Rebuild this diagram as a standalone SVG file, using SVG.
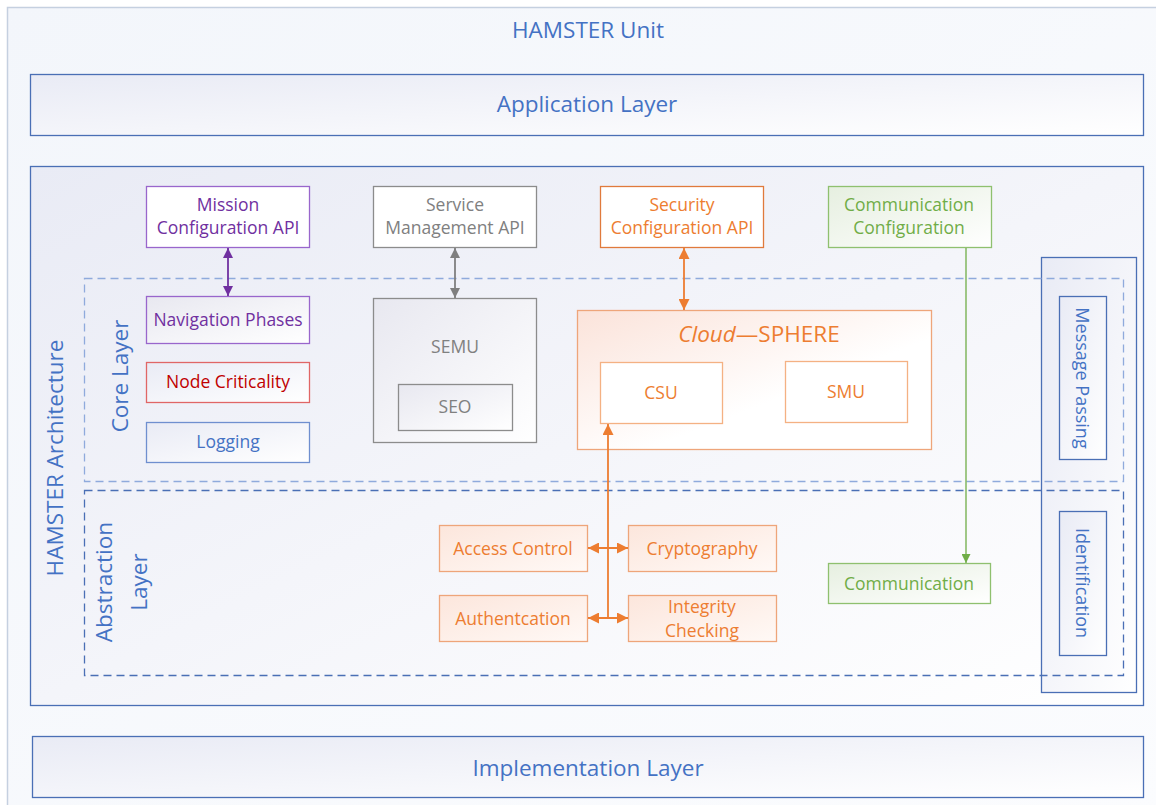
<svg xmlns="http://www.w3.org/2000/svg" width="1156" height="805" viewBox="0 0 1156 805">
  <defs>
    <linearGradient id="gBlue" x1="0" y1="0" x2="1" y2="1">
      <stop offset="0" stop-color="#e9ebf5"/>
      <stop offset="1" stop-color="#ffffff"/>
    </linearGradient>
    <linearGradient id="gUnit" x1="0" y1="0" x2="1" y2="1">
      <stop offset="0" stop-color="#f3f6fb"/>
      <stop offset="1" stop-color="#fbfcfe"/>
    </linearGradient>
    <linearGradient id="gOrange" x1="0" y1="0" x2="1" y2="1">
      <stop offset="0" stop-color="#fbe3da"/>
      <stop offset="0.6" stop-color="#ffffff"/>
    </linearGradient>
    <linearGradient id="gOrangeBox" x1="0" y1="0" x2="1" y2="1">
      <stop offset="0" stop-color="#fce6dc"/>
      <stop offset="1" stop-color="#fff9f6"/>
    </linearGradient>
    <linearGradient id="gGreen" x1="0" y1="0" x2="1" y2="1">
      <stop offset="0" stop-color="#e6efe0"/>
      <stop offset="1" stop-color="#ffffff"/>
    </linearGradient>
    <linearGradient id="gGray" x1="0" y1="0" x2="1" y2="1">
      <stop offset="0" stop-color="#e8e8f0"/>
      <stop offset="1" stop-color="#ffffff"/>
    </linearGradient>
    <marker id="aPurple" viewBox="0 0 10 10" refX="10" refY="5" markerWidth="10" markerHeight="10" markerUnits="userSpaceOnUse" orient="auto-start-reverse">
      <path d="M0,0 L10,5 L0,10 z" fill="#7030a0"/>
    </marker>
    <marker id="aGray" viewBox="0 0 10 10" refX="10" refY="5" markerWidth="10" markerHeight="10" markerUnits="userSpaceOnUse" orient="auto-start-reverse">
      <path d="M0,0 L10,5 L0,10 z" fill="#7f7f7f"/>
    </marker>
    <marker id="aOrange" viewBox="0 0 10 10" refX="10" refY="5" markerWidth="11" markerHeight="11" markerUnits="userSpaceOnUse" orient="auto-start-reverse">
      <path d="M0,0 L10,5 L0,10 z" fill="#ed7d31"/>
    </marker>
    <marker id="aGreen" viewBox="0 0 10 10" refX="10" refY="5" markerWidth="9" markerHeight="9" markerUnits="userSpaceOnUse" orient="auto">
      <path d="M0,0 L10,5 L0,10 z" fill="#70ad47"/>
    </marker>
  </defs>
  <style>
    text { font-family: "Open Sans", "Noto Sans", "Liberation Sans", sans-serif; text-anchor: middle; dominant-baseline: central; }
    .big { font-size: 22.5px; fill: #4472c4; }
    .lbl { font-size: 17.5px; }
    .side { font-size: 18px; }
    .blue { fill: #4472c4; }
    .purple { fill: #7030a0; }
    .gray { fill: #808080; }
    .orange { fill: #ed7d31; }
    .green { fill: #70ad47; }
    .red { fill: #c00000; }
    .layer { fill: none; stroke-width: 1.3; stroke-dasharray: 8 5; }
  </style>

  <!-- outer unit -->
  <g id="hamster-unit">
    <rect x="7.5" y="7.5" width="1160" height="810" fill="url(#gUnit)" stroke="#c5d0e0" stroke-width="1.5"/>
    <text class="big" x="588" y="29">HAMSTER Unit</text>
  </g>

  <g id="application-layer">
    <rect x="30.5" y="74.5" width="1113" height="61" fill="url(#gBlue)" stroke="#4a6fb5" stroke-width="1.3"/>
    <text class="big" x="587" y="103">Application Layer</text>
  </g>

  <g id="hamster-architecture">
    <rect x="30.5" y="166.5" width="1113" height="539" fill="url(#gBlue)" stroke="#4a6fb5" stroke-width="1.3"/>
    <text class="big" transform="translate(54,458) rotate(-90)">HAMSTER Architecture</text>
  </g>

  <g id="implementation-layer">
    <rect x="32.5" y="736.5" width="1111" height="61" fill="url(#gBlue)" stroke="#4a6fb5" stroke-width="1.3"/>
    <text class="big" x="588" y="767">Implementation Layer</text>
  </g>

  <!-- column spanning both layers -->
  <g id="cross-layer">
    <rect x="1041.5" y="257.5" width="95" height="435" fill="url(#gBlue)" stroke="#4a6fb5" stroke-width="1.3"/>
  </g>

  <g id="core-layer">
    <rect class="layer" x="84.5" y="278.5" width="1039" height="203" stroke="#8faadc"/>
    <text class="big" transform="translate(119,376) rotate(-90)">Core Layer</text>
  </g>

  <g id="abstraction-layer">
    <rect class="layer" x="84.5" y="490.5" width="1039" height="185" stroke="#4a6fb5"/>
    <text class="big" transform="translate(103,582) rotate(-90)">Abstraction</text>
    <text class="big" transform="translate(138,582) rotate(-90)">Layer</text>
  </g>

  <g id="message-passing">
    <rect x="1059.5" y="296.5" width="47" height="163" fill="url(#gBlue)" stroke="#4a6fb5" stroke-width="1.3"/>
    <text class="side blue" transform="translate(1083,378) rotate(90)">Message Passing</text>
  </g>
  <g id="identification">
    <rect x="1059.5" y="511.5" width="47" height="144" fill="url(#gBlue)" stroke="#4a6fb5" stroke-width="1.3"/>
    <text class="side blue" transform="translate(1083,583) rotate(90)">Identification</text>
  </g>

  <!-- API row -->
  <g id="mission-configuration-api">
    <rect x="146.5" y="186.5" width="163" height="61" fill="#ffffff" stroke="#9966cc" stroke-width="1.3"/>
    <text class="lbl purple" x="228" y="204">Mission</text>
    <text class="lbl purple" x="228" y="227">Configuration API</text>
  </g>
  <g id="service-management-api">
    <rect x="373.5" y="186.5" width="163" height="61" fill="#ffffff" stroke="#8c8c8c" stroke-width="1.3"/>
    <text class="lbl gray" x="455" y="204">Service</text>
    <text class="lbl gray" x="455" y="227">Management API</text>
  </g>
  <g id="security-configuration-api">
    <rect x="600.5" y="186.5" width="163" height="61" fill="#ffffff" stroke="#e07a3c" stroke-width="1.3"/>
    <text class="lbl orange" x="682" y="204">Security</text>
    <text class="lbl orange" x="682" y="227">Configuration API</text>
  </g>
  <g id="communication-configuration">
    <rect x="828.5" y="186.5" width="163" height="61" fill="url(#gGreen)" stroke="#8fc06f" stroke-width="1.3"/>
    <text class="lbl green" x="909" y="204">Communication</text>
    <text class="lbl green" x="909" y="227">Configuration</text>
  </g>

  <!-- core layer components -->
  <g id="navigation-phases">
    <rect x="146.5" y="296.5" width="163" height="47" fill="url(#gGray)" stroke="#9966cc" stroke-width="1.3"/>
    <text class="lbl purple" x="228" y="319">Navigation Phases</text>
  </g>
  <g id="node-criticality">
    <rect x="146.5" y="362.5" width="163" height="40" fill="url(#gBlue)" stroke="#e06666" stroke-width="1.3"/>
    <text class="lbl red" x="228" y="381">Node Criticality</text>
  </g>
  <g id="logging">
    <rect x="146.5" y="422.5" width="163" height="40" fill="url(#gBlue)" stroke="#6f8fcf" stroke-width="1.3"/>
    <text class="lbl blue" x="228" y="441">Logging</text>
  </g>
  <g id="semu">
    <rect x="373.5" y="298.5" width="163" height="144" fill="url(#gGray)" stroke="#8c8c8c" stroke-width="1.3"/>
    <text class="lbl gray" x="455" y="346">SEMU</text>
  </g>
  <g id="seo">
    <rect x="398.5" y="384.5" width="114" height="46" fill="url(#gGray)" stroke="#8c8c8c" stroke-width="1.3"/>
    <text class="lbl gray" x="455" y="406">SEO</text>
  </g>
  <g id="cloud-sphere">
    <rect x="577.5" y="310.5" width="354" height="139" fill="url(#gOrange)" stroke="#eea57a" stroke-width="1.3"/>
    <text class="orange" x="759" y="333" style="font-size:22.5px"><tspan font-style="italic">Cloud</tspan>—SPHERE</text>
  </g>
  <g id="csu">
    <rect x="600.5" y="362.5" width="122" height="61" fill="#ffffff" stroke="#f4b183" stroke-width="1.3"/>
    <text class="lbl orange" x="661" y="392">CSU</text>
  </g>
  <g id="smu">
    <rect x="785.5" y="361.5" width="122" height="61" fill="#ffffff" stroke="#f4b183" stroke-width="1.3"/>
    <text class="lbl orange" x="846" y="391">SMU</text>
  </g>

  <!-- abstraction layer components -->
  <g id="access-control">
    <rect x="439.5" y="525.5" width="148" height="46" fill="url(#gOrangeBox)" stroke="#eea57a" stroke-width="1.3"/>
    <text class="lbl orange" x="513" y="548">Access Control</text>
  </g>
  <g id="cryptography">
    <rect x="628.5" y="525.5" width="148" height="46" fill="url(#gOrangeBox)" stroke="#eea57a" stroke-width="1.3"/>
    <text class="lbl orange" x="702" y="548">Cryptography</text>
  </g>
  <g id="authentcation">
    <rect x="439.5" y="595.5" width="148" height="46" fill="url(#gOrangeBox)" stroke="#eea57a" stroke-width="1.3"/>
    <text class="lbl orange" x="513" y="618">Authentcation</text>
  </g>
  <g id="integrity-checking">
    <rect x="628.5" y="595.5" width="148" height="46" fill="url(#gOrangeBox)" stroke="#eea57a" stroke-width="1.3"/>
    <text class="lbl orange" x="702" y="606">Integrity</text>
    <text class="lbl orange" x="702" y="630">Checking</text>
  </g>
  <g id="communication">
    <rect x="828.5" y="563.5" width="162" height="40" fill="url(#gGreen)" stroke="#8fc06f" stroke-width="1.3"/>
    <text class="lbl green" x="909" y="583">Communication</text>
  </g>

  <!-- connectors -->
  <g id="connectors" fill="none">
    <line x1="228" y1="248" x2="228" y2="296" stroke="#7030a0" stroke-width="1.8" marker-start="url(#aPurple)" marker-end="url(#aPurple)"/>
    <line x1="455" y1="248" x2="455" y2="298" stroke="#7f7f7f" stroke-width="1.8" marker-start="url(#aGray)" marker-end="url(#aGray)"/>
    <line x1="684" y1="248" x2="684" y2="310" stroke="#ed7d31" stroke-width="1.8" marker-start="url(#aOrange)" marker-end="url(#aOrange)"/>
    <line x1="966" y1="248" x2="966" y2="563" stroke="#70ad47" stroke-width="1.3" marker-end="url(#aGreen)"/>
    <line x1="608" y1="619" x2="608" y2="424" stroke="#ed7d31" stroke-width="1.8" marker-end="url(#aOrange)"/>
    <line x1="588" y1="548" x2="628" y2="548" stroke="#ed7d31" stroke-width="1.8" marker-start="url(#aOrange)" marker-end="url(#aOrange)"/>
    <line x1="588" y1="618" x2="628" y2="618" stroke="#ed7d31" stroke-width="1.8" marker-start="url(#aOrange)" marker-end="url(#aOrange)"/>
  </g>
</svg>
